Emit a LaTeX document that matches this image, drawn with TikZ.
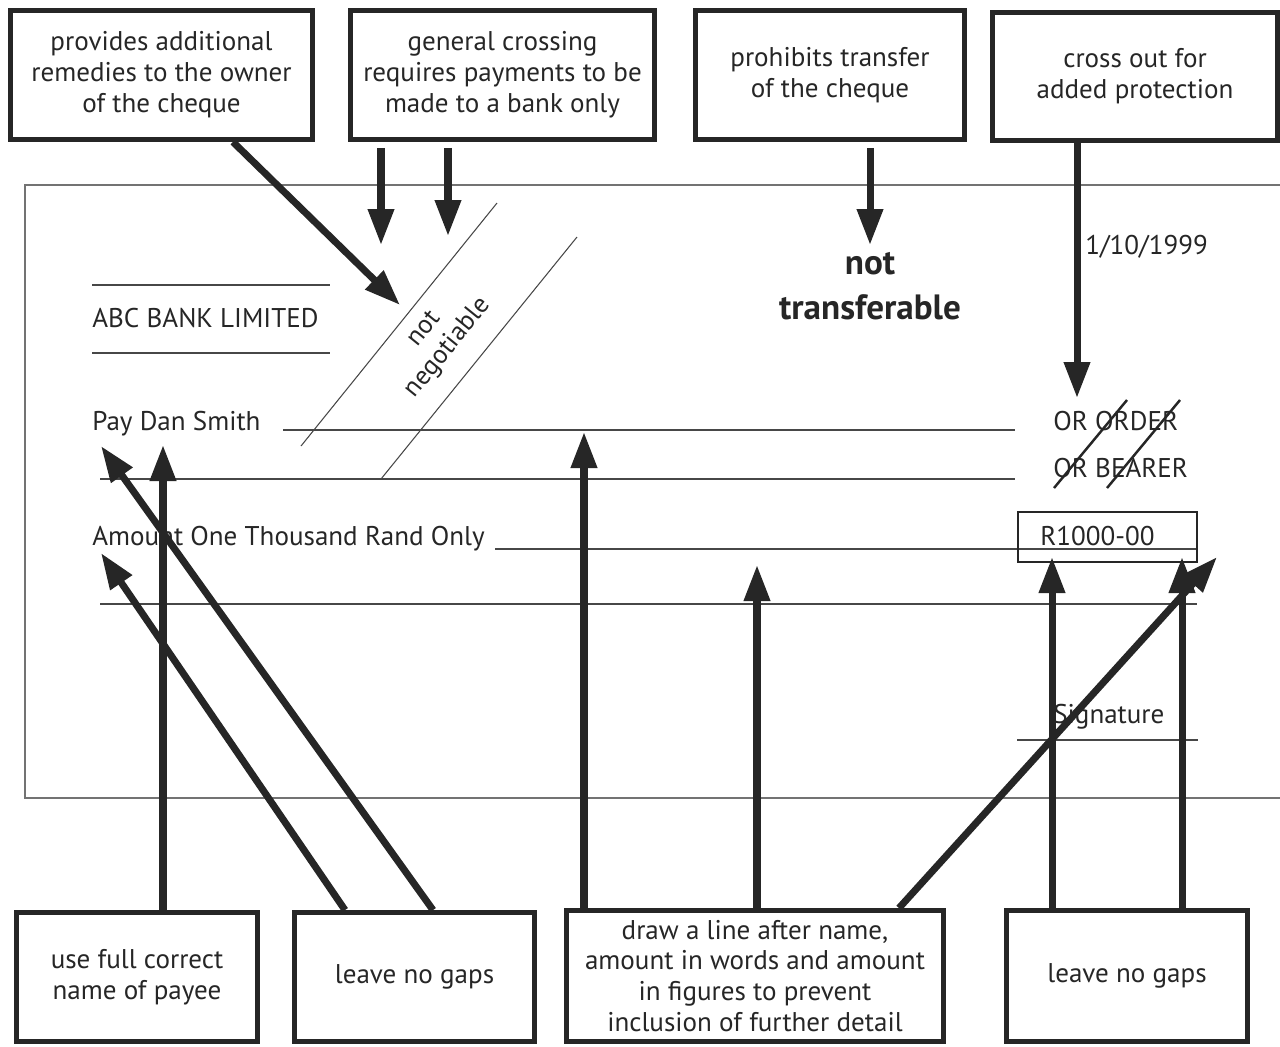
\documentclass[tikz,border=0pt]{standalone}
\usepackage[svgnames]{xcolor}
\usepackage{fontspec}
\setmainfont{PT Sans}
\usepackage{tikz}
\usetikzlibrary{arrows.meta}
\colorlet{ink}{black!85}
\colorlet{rule}{black!72}

\begin{document}
\begin{tikzpicture}[
  x=0.02cm, y=-0.02cm,
  every node/.style={text=ink, font=\fontsize{15.4}{17.6}\selectfont},
  note box/.style={draw=ink, line width=2.8pt, align=center, inner sep=0pt, minimum height=2.58cm},
  cheque text/.style={anchor=base west, inner sep=0pt},
  cheque rule/.style={draw=rule, line width=0.6pt},
  callout/.style={draw=ink, line width=4pt, -{Triangle[length=0.72cm,width=0.5cm]}},
]
\useasboundingbox (0,0) rectangle (1280,1046);

% boxes above the cheque
\node[note box, minimum width=6.04cm] (remedies) at (161.5,75) {provides additional\\remedies to the owner\\of the cheque};
\node[note box, minimum width=6.08cm] (crossing) at (502.5,75) {general crossing\\requires payments to be\\made to a bank only};
\node[note box, minimum width=5.38cm] (transfer) at (830,75) {prohibits transfer\\of the cheque};
\node[note box, minimum width=5.7cm, minimum height=2.56cm] (crossout) at (1135,76.5) {cross out for\\added protection};

% boxes below the cheque
\node[note box, minimum width=4.82cm] (payee) at (137,977) {use full correct\\name of payee};
\node[note box, minimum width=4.8cm] (gapsleft) at (414.5,977) {leave no gaps};
\node[note box, minimum width=7.54cm, minimum height=2.62cm] (drawline) at (755,976) {draw a line after name,\\amount in words and amount\\in figures to prevent\\inclusion of further detail};
\node[note box, minimum width=4.82cm, minimum height=2.62cm] (gapsright) at (1127,976) {leave no gaps};

% the cheque
\draw[draw=black!55, line width=0.6pt] (1280,185) -| (25,798) -- (1280,798);
\foreach \xa/\xb/\yy in {92/330/285, 92/330/353, 283/1015/430, 100/1015/479, 495/1197/549, 100/1197/604, 1017/1198/740}
  \draw[cheque rule] (\xa,\yy) -- (\xb,\yy);
\draw[cheque rule] (301,446) -- (497,203);
\draw[cheque rule] (381,479) -- (577,237);
\node[rotate=51, align=center, font=\fontsize{15}{17}\selectfont] (stamp) at (437,339) {not\\negotiable};

\node[cheque text] (bank) at (92,327) {ABC BANK LIMITED};
\node[cheque text] (pay) at (92,430) {Pay Dan Smith};
\node[cheque text] (amount) at (92,545) {Amount One Thousand Rand Only};
\node[cheque text] (order) at (1053,430) {OR ORDER};
\node[cheque text] (bearer) at (1053,477) {OR BEARER};
\node[cheque text] (figures) at (1040,545) {R1000-00};
\draw[draw=ink, line width=0.9pt] (1018,512) rectangle (1197,562);
\node[cheque text] (sign) at (1053,723) {Signature};
\node[cheque text] (date) at (1085,254) {1/10/1999};
\node[align=center, font=\bfseries\fontsize{20}{26}\selectfont] (nontransfer) at (870,286) {not\\transferable};
\draw[ink, line width=1.4pt] (1054,488) -- (1127,400);
\draw[ink, line width=1.4pt] (1107,488) -- (1180,400);

% arrow tips
\coordinate (tipstamp) at (400,305);
\coordinate (tipcrossA) at (381,245);
\coordinate (tipcrossB) at (448,236);
\coordinate (tipnt) at (870,245);
\coordinate (tiporder) at (1077,398);
\coordinate (tippayee) at (163,445);
\coordinate (tipgapA) at (101,553);
\coordinate (tipgapB) at (101,446);
\coordinate (tipname) at (584,432);
\coordinate (tipwords) at (757,565);
\coordinate (tipfig) at (1217,557);
\coordinate (tipbox) at (1052,557);
\coordinate (tipend) at (1182,557);

\draw[callout] ([xshift=1.43cm]remedies.south) -- (tipstamp);
\draw[callout] ([yshift=-0.12cm]crossing.south -| tipcrossA) -- (tipcrossA);
\draw[callout] ([yshift=-0.12cm]crossing.south -| tipcrossB) -- (tipcrossB);
\draw[callout] ([yshift=-0.12cm]transfer.south -| tipnt) -- (tipnt);
\draw[callout] (crossout.south -| tiporder) -- (tiporder);

\draw[callout] (payee.north -| tippayee) -- (tippayee);
\draw[callout] ([xshift=-1.39cm]gapsleft.north) -- (tipgapA);
\draw[callout] ([xshift=0.37cm]gapsleft.north) -- (tipgapB);
\draw[callout] (drawline.north -| tipname) -- (tipname);
\draw[callout] (drawline.north -| tipwords) -- (tipwords);
\draw[callout] ([xshift=2.88cm]drawline.north) -- (tipfig);
\draw[callout] (gapsright.north -| tipbox) -- (tipbox);
\draw[callout] (gapsright.north -| tipend) -- (tipend);
\end{tikzpicture}
\end{document}
